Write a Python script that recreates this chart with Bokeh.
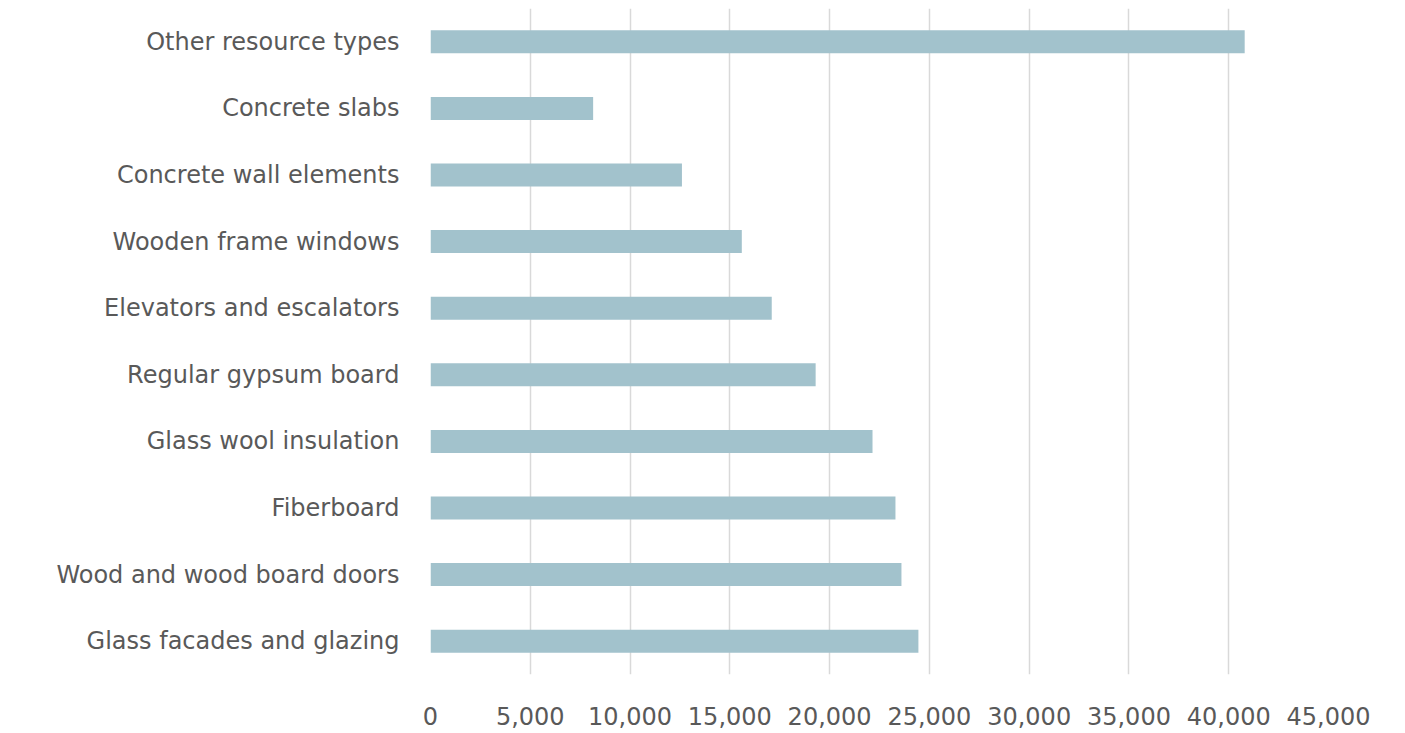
from bokeh.plotting import figure
from bokeh.models import FactorRange, Range1d, FixedTicker, NumeralTickFormatter
from bokeh.embed import file_html
from bokeh.resources import INLINE

categories = [
    "Other resource types",
    "Concrete slabs",
    "Concrete wall elements",
    "Wooden frame windows",
    "Elevators and escalators",
    "Regular gypsum board",
    "Glass wool insulation",
    "Fiberboard",
    "Wood and wood board doors",
    "Glass facades and glazing",
]
values = [40800, 8150, 12600, 15600, 17100, 19300, 22150, 23300, 23600, 24450]
x_ticks = [0, 5000, 10000, 15000, 20000, 25000, 30000, 35000, 40000, 45000]

FONT = "DejaVu Sans"
TXT = "#595959"

p = figure(
    width=1405, height=733,
    y_range=FactorRange(factors=list(reversed(categories)), range_padding=0),
    x_range=Range1d(0, 45000),
    output_backend="svg", toolbar_location=None,
    min_border_left=430, min_border_top=8, min_border_right=77, min_border_bottom=59,
)
p.hbar(y=categories, right=values, left=0, height=0.345, color="#A2C2CC", line_color=None)

p.outline_line_color = None
p.ygrid.grid_line_color = None
p.xgrid.grid_line_color = "#D9D9D9"
p.xgrid.grid_line_width = 1.5

p.xaxis.ticker = FixedTicker(ticks=x_ticks)
p.xaxis.formatter = NumeralTickFormatter(format="0,0")
for ax in (p.xaxis[0], p.yaxis[0]):
    ax.axis_line_color = None
    ax.major_tick_line_color = None
    ax.minor_tick_line_color = None
    ax.major_label_text_font = FONT
    ax.major_label_text_font_size = "24px"
    ax.major_label_text_color = TXT
p.xaxis.major_label_standoff = 26
p.yaxis.major_label_standoff = 25

open("out.html", "w").write(file_html(p, INLINE))
